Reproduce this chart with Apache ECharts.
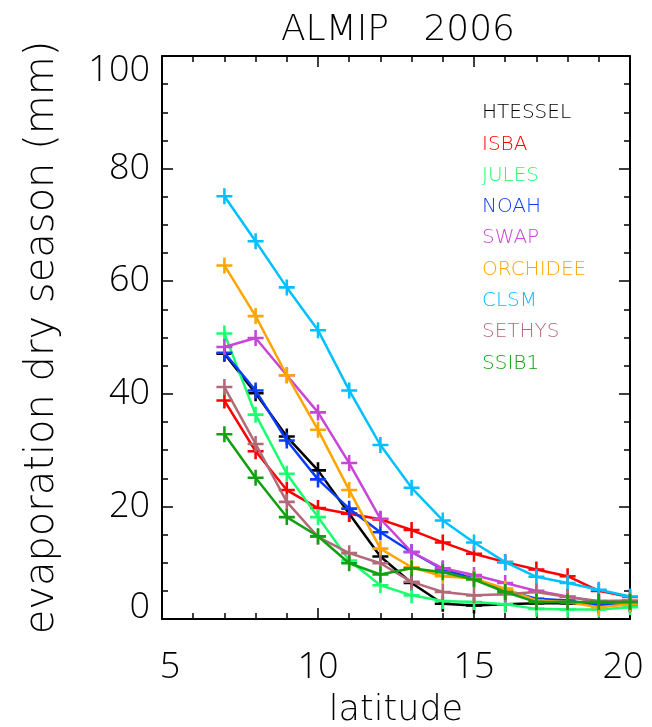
<!DOCTYPE html>
<html>
<head>
<meta charset="utf-8">
<script src="https://cdn.jsdelivr.net/npm/echarts@6/dist/echarts.min.js"></script>
<style>
  html, body { margin: 0; padding: 0; background: #fff; }
  #chart { width: 652px; height: 727px; }
</style>
</head>
<body>
<div id="chart"></div>
<script>
// latitudes of the points
let latitudes = [7, 8, 9, 10, 11, 12, 13, 14, 15, 16, 17, 18, 19, 20];

// evaporation dry season (mm) per model
let htessel  = [47.1, 40.1, 32.4, 26.4, 18.7, 11.1, 6.4, 2.7, 2.4, 2.6, 2.8, 2.8, 2.6, 2.6];
let isba     = [38.8, 29.8, 22.9, 19.7, 18.7, 17.7, 15.8, 13.6, 11.6, 10.1, 8.8, 7.6, 5.0, 3.9];
let jules    = [50.7, 36.3, 25.8, 18.1, 10.4, 6.0, 4.2, 3.2, 3.0, 2.6, 1.8, 1.7, 1.7, 2.1];
let noah     = [47.3, 40.6, 31.7, 24.8, 19.6, 15.4, 11.9, 8.8, 7.2, 5.1, 3.6, 3.3, 2.4, 2.6];
let swap     = [48.3, 49.9, 43.3, 36.7, 27.7, 17.8, 11.9, 9.0, 7.8, 6.4, 5.0, 4.0, 3.0, 2.8];
let orchidee = [62.8, 53.8, 43.3, 33.6, 22.9, 12.5, 9.2, 7.6, 7.2, 5.4, 3.3, 3.0, 2.1, 2.6];
let clsm     = [75.1, 67.1, 58.9, 51.3, 40.6, 30.9, 23.3, 17.5, 13.6, 10.1, 7.5, 6.4, 5.2, 4.0];
let sethys   = [41.2, 31.1, 20.8, 14.6, 11.7, 9.9, 6.6, 4.8, 4.2, 4.4, 4.8, 3.9, 3.2, 3.3];
let ssib1    = [32.8, 25.1, 18.1, 14.7, 9.9, 7.9, 9.0, 8.3, 7.0, 4.8, 3.0, 3.0, 3.0, 3.0];

let modelNames = ["HTESSEL", "ISBA", "JULES", "NOAH", "SWAP", "ORCHIDEE", "CLSM", "SETHYS", "SSIB1"];
let modelValues = [htessel, isba, jules, noah, swap, orchidee, clsm, sethys, ssib1];
let modelColors = ["#000000", "#ff0000", "#1aff6e", "#0a3cff", "#c845d8", "#ffa500", "#00c0ff", "#b36a78", "#10a010"];

let fontFam = "'DejaVu Sans', sans-serif";
let numFont = "'Open Sans', 'DejaVu Sans', sans-serif";
let plusSymbol = 'path://M4.2,0h1.6v4.2h4.2v1.6h-4.2v4.2h-1.6v-4.2h-4.2v-1.6h4.2z';

let chart = echarts.init(document.getElementById("chart"));

let series = modelNames.map(function (name, i) {
    return {
        name: name,
        type: "line",
        data: latitudes.map(function (lat, j) { return [lat, modelValues[i][j]]; }),
        symbol: plusSymbol,
        symbolSize: 16,
        showAllSymbol: true,
        lineStyle: { width: 2.5, color: modelColors[i] },
        itemStyle: { color: modelColors[i] },
        animation: false,
        z: 2 + i
    };
});

let lineSt = { color: "#000", width: 1.5 };
function axisBase(minorSplit) {
    return {
        axisLine: { show: true, onZero: false, lineStyle: { color: "#000", width: 2 } },
        axisTick: { show: true, inside: true, length: 11, lineStyle: lineSt },
        minorTick: { show: true, splitNumber: minorSplit, length: 6, lineStyle: lineSt },
        splitLine: { show: false }
    };
}

let option = {
    backgroundColor: "#fff",
    title: {
        text: "ALMIP   2006",
        left: 393, top: 8,
        textAlign: "center",
        textStyle: { fontFamily: fontFam, fontWeight: 200, fontSize: 36, color: "#000" }
    },
    legend: {
        orient: "vertical",
        left: 472, top: 98,
        itemWidth: 0, itemHeight: 0,
        itemGap: 11.3,
        icon: "rect",
        selectedMode: false,
        data: modelNames.map(function (n, i) {
            return { name: n, textStyle: { color: modelColors[i] } };
        }),
        textStyle: { fontFamily: fontFam, fontWeight: 200, fontSize: 20 }
    },
    grid: { left: 162, right: 22, top: 56, bottom: 108, containLabel: false, outerBoundsMode: "none" },
    xAxis: [
        Object.assign({
            type: "value", min: 5, max: 20, interval: 5,
            name: "latitude", nameLocation: "middle", nameGap: 74, nameMoveOverlap: false,
            nameTextStyle: { fontFamily: fontFam, fontWeight: 200, fontSize: 35, color: "#000" },
            axisLabel: {
                margin: 31, fontFamily: numFont, fontWeight: 300, fontSize: 36, color: "#000",
                verticalAlign: "top",
                formatter: function (v) {
                    if (v === 5) return "{lo|5}";
                    if (v === 20) return "{hi|20}";
                    return String(v);
                },
                rich: {
                    lo: { fontFamily: numFont, fontWeight: 300, fontSize: 36, padding: [0, 0, 0, 16] },
                    hi: { fontFamily: numFont, fontWeight: 300, fontSize: 36, padding: [0, 14, 0, 0] }
                }
            }
        }, axisBase(5)),
        Object.assign({
            type: "value", min: 5, max: 20, interval: 5, position: "top",
            axisLabel: { show: false }
        }, axisBase(5))
    ],
    yAxis: [
        Object.assign({
            type: "value", min: 0, max: 100, interval: 20,
            name: "evaporation dry season (mm)", nameLocation: "middle", nameGap: 99, nameMoveOverlap: false,
            nameTextStyle: { fontFamily: fontFam, fontWeight: 200, fontSize: 40, color: "#000" },
            axisLabel: {
                margin: 12, fontFamily: numFont, fontWeight: 300, fontSize: 36, color: "#000",
                formatter: function (v) {
                    if (v === 0) return "{lo|0}";
                    if (v === 100) return "{hi|100}";
                    return String(v);
                },
                rich: {
                    lo: { fontFamily: numFont, fontWeight: 300, fontSize: 36, padding: [0, 0, 22, 0] },
                    hi: { fontFamily: numFont, fontWeight: 300, fontSize: 36, padding: [30, 0, 0, 0] }
                }
            }
        }, axisBase(4)),
        Object.assign({
            type: "value", min: 0, max: 100, interval: 20, position: "right",
            axisLabel: { show: false }
        }, axisBase(4))
    ],
    series: series
};
chart.setOption(option);
</script>
</body>
</html>
